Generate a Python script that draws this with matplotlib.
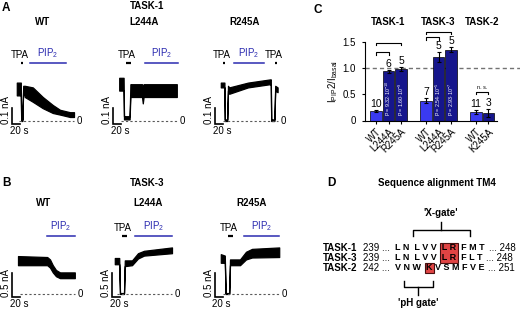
import matplotlib.pyplot as plt
import numpy as np
from matplotlib.patches import Rectangle
from matplotlib.font_manager import FontProperties

plt.rcParams['font.family'] = ['Liberation Sans', 'DejaVu Sans']
plt.rcParams['mathtext.fontset'] = 'custom'
plt.rcParams['mathtext.rm'] = 'Liberation Sans'
plt.rcParams['mathtext.it'] = 'Liberation Sans:italic'
plt.rcParams['mathtext.bf'] = 'Liberation Sans:bold'
plt.rcParams['axes.linewidth'] = 0.8

# ---- A: TASK-1 recordings (time in s, current in nA), noise band as lo/hi
a_wt_t = [42, 52, 53, 56, 58, 62, 82, 107, 132, 150, 175, 185]
a_wt_hi = [0.24, 0.24, 0.01, 0.01, 0.22, 0.22, 0.21, 0.15, 0.10, 0.07, 0.055, 0.055]
a_wt_lo = [0.16, 0.16, 0.0, 0.0, 0.20, 0.15, 0.12, 0.08, 0.05, 0.04, 0.025, 0.025]

a_l244_t = [48, 59, 60, 74, 76, 78, 105, 107, 109, 192]
a_l244_hi = [0.27, 0.27, 0.03, 0.03, 0.23, 0.23, 0.23, 0.21, 0.23, 0.23]
a_l244_lo = [0.19, 0.19, 0.01, 0.01, 0.16, 0.15, 0.15, 0.11, 0.15, 0.15]

a_r245_t = [52, 61, 62, 68, 70, 73, 120, 175, 177, 178, 186, 188, 194]
a_r245_hi = [0.24, 0.24, 0.01, 0.01, 0.22, 0.21, 0.24, 0.26, 0.26, 0.01, 0.01, 0.22, 0.21]
a_r245_lo = [0.21, 0.21, 0.0, 0.0, 0.19, 0.17, 0.21, 0.23, 0.23, 0.0, 0.0, 0.19, 0.18]

# ---- B: TASK-3 recordings
b_wt_t = [45, 118, 125, 132, 140, 150, 187]
b_wt_hi = [0.79, 0.77, 0.72, 0.60, 0.50, 0.45, 0.45]
b_wt_lo = [0.60, 0.60, 0.55, 0.45, 0.37, 0.33, 0.33]

b_l244_t = [37, 48, 50, 60, 62, 80, 95, 110, 180]
b_l244_hi = [0.75, 0.75, 0.02, 0.02, 0.70, 0.70, 0.85, 0.90, 0.97]
b_l244_lo = [0.62, 0.62, 0.0, 0.0, 0.58, 0.60, 0.74, 0.80, 0.85]

b_r245_t = [52, 62, 64, 73, 75, 100, 115, 130, 198]
b_r245_hi = [0.83, 0.80, 0.02, 0.02, 0.72, 0.72, 0.88, 0.94, 0.97]
b_r245_lo = [0.65, 0.65, 0.0, 0.0, 0.60, 0.60, 0.72, 0.76, 0.77]

mutants = ['WT', 'L244A', 'R245A']

# application windows (s)
a_tpa = [[(52, 57)], [(64, 78)], [(58, 63), (188, 193)]]
a_pip2 = [(75, 165), (112, 195), (85, 160)]
b_tpa = [[], [(55, 67)], [(70, 83)]]
b_pip2 = [(117, 187), (87, 180), (110, 198)]

# ---- C: I_PIP2 / I_basal
groups = ['TASK-1', 'TASK-3', 'TASK-2']
bar_labels = ['WT', 'L244A', 'R245A', 'WT', 'L244A', 'R245A', 'WT', 'K245A']
bar_group = [0, 0, 0, 1, 1, 1, 2, 2]
ratio = [0.18, 0.94, 0.99, 0.38, 1.21, 1.35, 0.16, 0.14]
ratio_err = [0.02, 0.03, 0.04, 0.05, 0.09, 0.05, 0.04, 0.08]
n_cells = [10, 6, 5, 7, 5, 5, 11, 3]
p_vals = ['', '9.32·10$^{-10}$', '1.60·10$^{-9}$', '', '2.54·10$^{-5}$', '2.93·10$^{-7}$', '', '']
comparisons = [(0, 1), (0, 2), (3, 4), (3, 5), (6, 7)]
comp_text = ['', '', '', '', 'n. s.']

# ---- D: sequence alignment
seq_names = ['TASK-1', 'TASK-3', 'TASK-2']
seq_first = [239, 239, 242]
seq_last = [248, 248, 251]
seq_res = ['L N  L V V  L R  F M T', 'L N  L V V  L R  F L T', 'V N W  K V S M F V E']
seq_mark = [(5, 6), (5, 6), (3, 3)]

W, H = 520, 310
fig = plt.figure(figsize=(W / 100, H / 100), dpi=100)
BLUE = '#2b2bb0'


def px_axes(x, y, w, h):
    return fig.add_axes([x / W, 1 - (y + h) / H, w / W, h / H])


def ftext(x, y, s, **kw):
    fig.text(x / W, 1 - y / H, s, **kw)


# ---------------- panels A and B ----------------
rows = [
    dict(top=40, h=100, base=121, ppn=160.0, scale=0.1, unit='0.1 nA',
         traces=[(a_wt_t, a_wt_lo, a_wt_hi), (a_l244_t, a_l244_lo, a_l244_hi),
                 (a_r245_t, a_r245_lo, a_r245_hi)],
         tpa=a_tpa, pip2=a_pip2, bar_t=[30, 33, 38]),
    dict(top=215, h=95, base=294, ppn=48.0, scale=0.5, unit='0.5 nA',
         traces=[(b_wt_t, b_wt_lo, b_wt_hi), (b_l244_t, b_l244_lo, b_l244_hi),
                 (b_r245_t, b_r245_lo, b_r245_hi)],
         tpa=b_tpa, pip2=b_pip2, bar_t=[30, 30, 37]),
]

for r in rows:
    ppn = r['ppn']
    for c in range(3):
        ax = px_axes(100 * c, r['top'], 100, r['h'])
        ax.set_xlim(0, 250)
        ax.set_ylim(-(r['top'] + r['h'] - r['base']) / ppn, (r['base'] - r['top']) / ppn)
        ax.axis('off')
        t, lo, hi = r['traces'][c]
        ax.fill_between(t, lo, hi, color='k', lw=0.9)
        ax.plot([t[0] + 5, t[-1]], [0, 0], ls=(0, (2, 2)), color='0.35', lw=0.8)
        ax.text(t[-1] + 14, 0, '0', fontsize=7, ha='center', va='center')
        # application bars
        ybar = 58 / ppn
        for (s, e) in r['tpa'][c]:
            ax.plot([s, e], [ybar, ybar], color='k', lw=1.6, solid_capstyle='butt')
            ax.text((s + e) / 2 - 5, ybar + 3 / ppn, 'TPA', fontsize=7, ha='center', va='bottom')
        s, e = r['pip2'][c]
        ax.plot([s, e], [ybar, ybar], color=BLUE, lw=1.1)
        ax.text((s + e) / 2, ybar + 3 / ppn, 'PIP$_2$', fontsize=7, color=BLUE,
                ha='center', va='bottom')
        # scale bar
        bt = r['bar_t'][c]
        i0 = -3 / ppn
        ax.plot([bt, bt, bt + 20], [i0 + r['scale'], i0, i0], color='k', lw=1.2,
                solid_joinstyle='miter')
        ax.text(bt + 17, i0 - 2 / ppn, '20 s', fontsize=7, ha='center', va='top')
        ax.text(bt - 3, i0, r['unit'], fontsize=7, rotation=90, ha='right', va='bottom')

ftext(2, 8, 'A', fontsize=8.5, weight='bold', va='center')
ftext(147, 6, 'TASK-1', fontsize=7, weight='bold', ha='center', va='center')
for c, name in enumerate(mutants):
    ftext(43 + 101 * c, 22, name, fontsize=7, weight='bold', ha='center', va='center')
ftext(2, 183, 'B', fontsize=8.5, weight='bold', va='center')
ftext(147, 183, 'TASK-3', fontsize=7, weight='bold', ha='center', va='center')
for c, name in enumerate(mutants):
    ftext(44 + 104 * c, 203, name, fontsize=7, weight='bold', ha='center', va='center')

# ---------------- panel C ----------------
axc = px_axes(365, 42, 132, 78.5)
xpos = np.arange(len(ratio)) + np.array(bar_group)
colors = ['#3a3af0' if lab == 'WT' else '#16168c' for lab in bar_labels]
axc.bar(xpos, ratio, width=0.92, color=colors, edgecolor='k', lw=0.5, zorder=2)
axc.errorbar(xpos, ratio, yerr=ratio_err, fmt='none', ecolor='k', elinewidth=0.8,
             capsize=1.5, capthick=0.8, zorder=3)
for x, v, e, n, p in zip(xpos, ratio, ratio_err, n_cells, p_vals):
    axc.text(x, v + e + 0.02, str(n), fontsize=7.5, ha='center', va='bottom')
    if p:
        axc.text(x, 0.08, 'P = ' + p, fontsize=3.8, color='white', rotation=90,
                 ha='center', va='bottom', zorder=4)
axc.set_xlim(-0.88, 9.68)
axc.set_ylim(0, 1.5)
axc.plot([-0.88, 11.6], [1, 1], ls=(0, (3, 2.2)), color='0.45', lw=1, clip_on=False, zorder=1)
br_y = [1.31, 1.49, 1.59, 1.70, 0.55]
for (i, j), y, txt in zip(comparisons, br_y, comp_text):
    axc.plot([xpos[i], xpos[i], xpos[j], xpos[j]], [y - 0.05, y, y, y - 0.05],
             color='k', lw=0.8, clip_on=False)
    if txt:
        axc.text((xpos[i] + xpos[j]) / 2, y + 0.03, txt, fontsize=4, ha='center', va='bottom')
for g, name in enumerate(groups):
    gx = xpos[np.array(bar_group) == g].mean()
    axc.text(gx, 1.88, name, fontsize=7, weight='bold', ha='center', va='center', clip_on=False)
axc.spines['top'].set_visible(False)
axc.spines['right'].set_visible(False)
axc.set_yticks([0, 0.5, 1.0, 1.5])
axc.set_yticklabels(['0', '0.5', '1.0', '1.5'])
axc.set_xticks(xpos)
axc.set_xticklabels(bar_labels, rotation=45, ha='right', rotation_mode='anchor')
axc.tick_params(axis='both', labelsize=7, length=2.5, width=0.8)
axc.tick_params(axis='y', pad=4)
axc.tick_params(axis='x', pad=2)
axc.set_ylabel('I$_{\\mathrm{PIP}}$2/I$_{\\mathrm{basal}}$', fontsize=7)
axc.yaxis.set_label_coords(-0.19, 0.5)
ftext(313, 10, 'C', fontsize=8.5, weight='bold', va='center')

# ---------------- panel D ----------------
axd = px_axes(315, 175, 205, 135)
axd.set_xlim(315, 520)
axd.set_ylim(310, 175)
axd.axis('off')
ftext(327, 183, 'D', fontsize=8.5, weight='bold', va='center')
axd.text(437, 183, 'Sequence alignment TM4', fontsize=7, weight='bold', ha='center', va='center')

renderer = fig.canvas.get_renderer()
bold = FontProperties(family='Liberation Sans', weight='bold', size=6.5)


def width(s, prop):
    return renderer.get_text_width_height_descent(s, prop, ismath=False)[0]


row_y = [248, 258, 268]
x_res = 395
boxes = []
for k, name in enumerate(seq_names):
    y = row_y[k]
    s = seq_res[k]
    axd.text(357, y, name, fontsize=7, weight='bold', ha='right', va='center')
    axd.text(363, y, f'{seq_first[k]} ...', fontsize=7, ha='left', va='center')
    axd.text(x_res, y, s, fontproperties=bold, ha='left', va='center', zorder=3)
    axd.text(x_res + width(s, bold) + 4, y, f'... {seq_last[k]}', fontsize=7,
             ha='left', va='center')
    letters = [i for i, ch in enumerate(s) if ch != ' ']
    a, b = seq_mark[k]
    ia, ib = letters[a], letters[b]
    x0 = x_res + width(s[:ia + 1], bold) - width(s[ia], bold) - 1.5
    x1 = x_res + width(s[:ib + 1], bold) + 1.5
    if boxes and abs(boxes[-1][0] - x0) < 0.5 and abs(boxes[-1][1] - x1) < 0.5:
        boxes[-1][3] = y + 5
    else:
        boxes.append([x0, x1, y - 5, y + 5])
for x0, x1, y0, y1 in boxes:
    axd.add_patch(Rectangle((x0, y0), x1 - x0, y1 - y0, facecolor='#e04444',
                            edgecolor='#4a1010', lw=0.8, zorder=2))

# gate brackets
axd.plot([413, 413, 470, 470], [236, 230, 230, 236], color='k', lw=1)
axd.plot([441, 441], [230, 222], color='k', lw=1)
axd.text(441, 213, "'X-gate'", fontsize=7, weight='bold', ha='center', va='center')
axd.plot([404, 404, 433, 433], [281, 287, 287, 281], color='k', lw=1)
axd.plot([418, 418], [287, 295], color='k', lw=1)
axd.text(418, 303, "'pH gate'", fontsize=7, weight='bold', ha='center', va='center')

fig.savefig('out.png', dpi=100)
